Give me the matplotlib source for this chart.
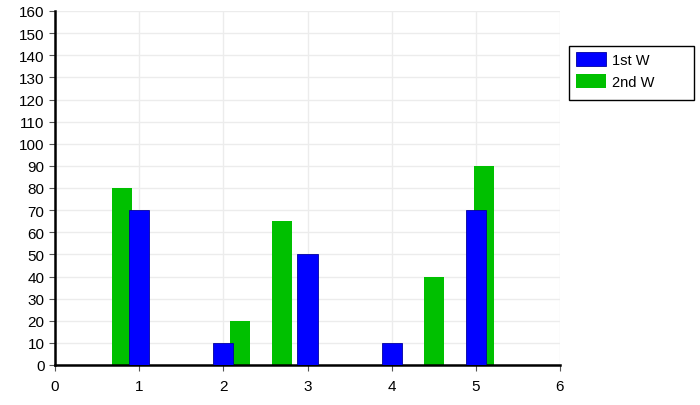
import matplotlib
matplotlib.use("Agg")
from matplotlib import pyplot as plt
from matplotlib.patches import Rectangle

plt.rcParams['font.family'] = ['Liberation Sans', 'DejaVu Sans']

# 1st W (blue) and 2nd W (green) values
x_first = [1, 2, 3, 4, 5]
y_first = [70, 10, 50, 10, 70]
x_second = [0.8, 2.2, 2.7, 4.5, 5.1]
y_second = [80, 20, 65, 40, 90]
labels = ['1st W', '2nd W']

fig = plt.figure(figsize=(7, 4.06), dpi=100)
ax = fig.add_axes([55/700, 1 - 366/406, 505/700, 354/406])

ax.bar(x_second, y_second, width=0.24, color='#00c000', label=labels[1], zorder=2)
ax.bar(x_first, y_first, width=0.24, color='#0000ff', edgecolor='#0000a0',
       linewidth=0.6, label=labels[0], zorder=3)

ax.set_xlim(0, 6)
ax.set_ylim(0, 160)
ax.set_xticks(range(0, 7))
ax.set_yticks(range(0, 161, 10))
ax.grid(True, color='#ececec', linewidth=1, zorder=0)
ax.set_axisbelow(True)

for s in ['top', 'right']:
    ax.spines[s].set_visible(False)
for s in ['left', 'bottom']:
    ax.spines[s].set_linewidth(1.8)
    ax.spines[s].set_color('black')
ax.tick_params(axis='both', labelsize=11, length=4, width=0.8, color='#555555')
ax.tick_params(axis='x', pad=6)

handles, labs = ax.get_legend_handles_labels()
order = [1, 0]
leg = fig.legend([handles[i] for i in order], [labs[i] for i in order],
                 loc='upper left', bbox_to_anchor=(576/700, 1 - 53/406),
                 fontsize=10.5, frameon=False,
                 handlelength=2.05, handleheight=1.1, borderpad=0,
                 labelspacing=0.48, handletextpad=0.4, borderaxespad=0)

# legend box is wider than its contents
fig.patches.append(Rectangle((569/700, 1 - 101/406), 125/700, 54/406,
                             transform=fig.transFigure, fill=False,
                             edgecolor='black', linewidth=1))

fig.savefig('out.png', dpi=100)
